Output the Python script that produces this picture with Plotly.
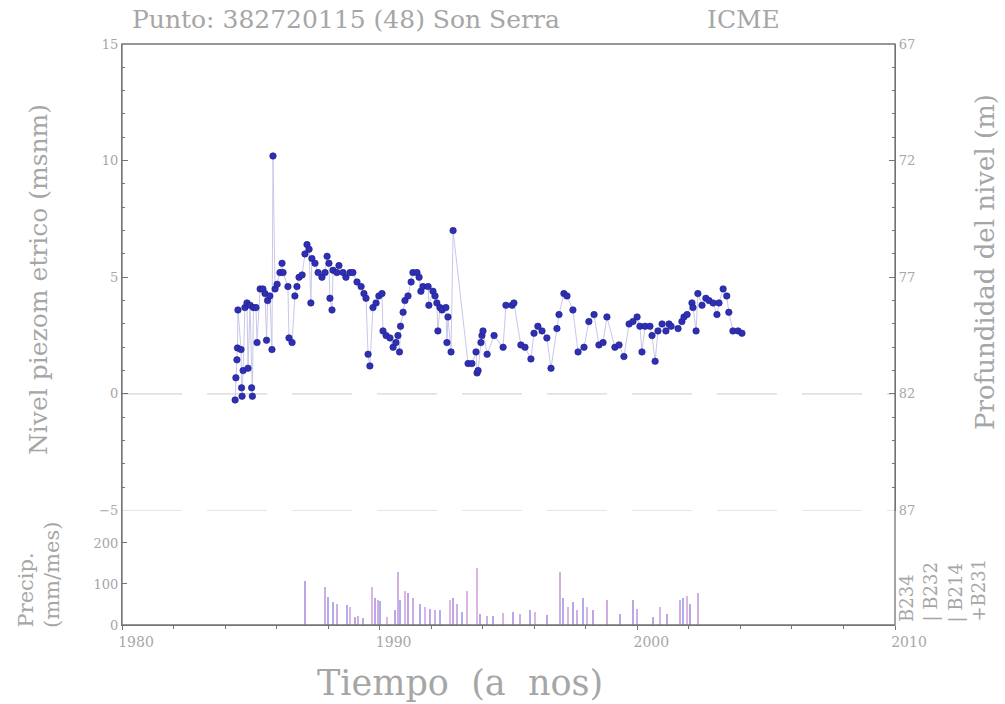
import plotly.graph_objects as go

# Piezometric level (m a.s.l.) at point 382720115, Son Serra
level_year = [
    1984.39, 1984.42, 1984.46, 1984.48, 1984.50, 1984.62, 1984.64, 1984.66, 1984.70, 1984.77,
    1984.85, 1984.89, 1984.97, 1985.03, 1985.06, 1985.10, 1985.20, 1985.24, 1985.36, 1985.47,
    1985.55, 1985.61, 1985.65, 1985.74, 1985.82, 1985.86, 1985.94, 1986.02, 1986.13, 1986.21,
    1986.25, 1986.44, 1986.48, 1986.60, 1986.71, 1986.79, 1986.87, 1986.99, 1987.10, 1987.18,
    1987.26, 1987.33, 1987.37, 1987.49, 1987.61, 1987.76, 1987.88, 1987.96, 1988.03, 1988.07,
    1988.15, 1988.19, 1988.34, 1988.42, 1988.58, 1988.69, 1988.85, 1988.96, 1989.12, 1989.28,
    1989.39, 1989.47, 1989.55, 1989.62, 1989.74, 1989.86, 1989.97, 1990.09, 1990.13, 1990.25,
    1990.40, 1990.52, 1990.63, 1990.71, 1990.77, 1990.81, 1990.91, 1990.98, 1991.10, 1991.22,
    1991.29, 1991.45, 1991.53, 1991.60, 1991.68, 1991.88, 1991.91, 1992.07, 1992.15, 1992.22,
    1992.26, 1992.34, 1992.42, 1992.57, 1992.61, 1992.65, 1992.77, 1992.85, 1993.43, 1993.58,
    1993.74, 1993.78, 1993.82, 1993.93, 1993.97, 1994.01, 1994.17, 1994.44, 1994.79, 1994.90,
    1995.14, 1995.21, 1995.48, 1995.64, 1995.87, 1995.99, 1996.14, 1996.30, 1996.49, 1996.65,
    1996.88, 1996.96, 1997.15, 1997.27, 1997.50, 1997.70, 1997.93, 1998.12, 1998.32, 1998.51,
    1998.67, 1998.82, 1999.13, 1999.29, 1999.48, 1999.68, 1999.83, 1999.99, 2000.10, 2000.18,
    2000.30, 2000.49, 2000.57, 2000.69, 2000.80, 2000.96, 2001.11, 2001.23, 2001.31, 2001.58,
    2001.73, 2001.81, 2001.93, 2002.12, 2002.16, 2002.28, 2002.35, 2002.51, 2002.66, 2002.78,
    2002.94, 2003.09, 2003.17, 2003.33, 2003.47, 2003.55, 2003.71, 2003.91, 2004.06,
]
level_msnm = [
    -0.26, 0.69, 1.46, 1.97, 3.6, 1.9, 0.26, -0.1, 1.0, 3.7,
    3.9, 1.1, 3.8, 0.26, -0.1, 3.7, 3.7, 2.2, 4.5, 4.5,
    4.3, 2.3, 4.0, 4.2, 1.9, 10.2, 4.5, 4.7, 5.2, 5.6,
    5.2, 4.6, 2.4, 2.2, 4.2, 4.6, 5.0, 5.1, 6.0, 6.4,
    6.2, 3.9, 5.8, 5.6, 5.2, 5.0, 5.2, 5.9, 5.6, 4.1,
    3.6, 5.3, 5.2, 5.5, 5.2, 5.0, 5.2, 5.2, 4.8, 4.6,
    4.3, 4.1, 1.7, 1.2, 3.7, 3.9, 4.2, 4.3, 2.7, 2.5,
    2.4, 2.0, 2.2, 2.5, 1.8, 2.9, 3.5, 4.0, 4.2, 4.8,
    5.2, 5.2, 5.0, 4.4, 4.6, 4.6, 3.8, 4.4, 4.2, 3.9,
    2.7, 3.7, 3.6, 3.7, 2.2, 3.3, 1.8, 7.0, 1.3, 1.3,
    1.8, 0.9, 1.0, 2.2, 2.5, 2.7, 1.7, 2.5, 2.0, 3.8,
    3.8, 3.9, 2.1, 2.0, 1.5, 2.6, 2.9, 2.7, 2.4, 1.1,
    2.8, 3.4, 4.3, 4.2, 3.6, 1.8, 2.0, 3.1, 3.4, 2.1,
    2.2, 3.3, 2.0, 2.1, 1.6, 3.0, 3.1, 3.3, 2.9, 1.8,
    2.9, 2.9, 2.5, 1.4, 2.7, 3.0, 2.7, 3.0, 2.9, 2.8,
    3.1, 3.3, 3.4, 3.9, 3.7, 2.7, 4.3, 3.8, 4.1, 4.0,
    3.9, 3.4, 3.9, 4.5, 4.2, 3.5, 2.7, 2.7, 2.6,
]
# Ground elevation reference: depth of water table = 82 - level
ref_depth = 82

# Monthly precipitation (mm/mes) per station
b234_year = [1987.10, 1988.19, 1989.04, 1989.82, 1990.60, 1991.10, 1991.95, 1992.85, 1993.89, 1995.17, 1996.49, 1997.50, 1998.28, 1999.83, 2001.15, 2002.04]
b234_mm = [108, 56, 20, 68, 37, 80, 41, 66, 29, 34, 25, 56, 37, 61, 29, 53]
b232_year = [1987.88, 1988.34, 1989.16, 1989.93, 1990.71, 1991.29, 1992.15, 1993.00, 1994.17, 1995.45, 1997.00, 1997.66, 1998.82, 1999.99, 2001.66, 2002.35]
b232_mm = [93, 53, 24, 61, 130, 68, 37, 53, 24, 28, 130, 37, 61, 41, 61, 80]
b214_year = [1987.99, 1988.73, 1989.35, 1990.01, 1990.79, 1991.57, 1992.34, 1993.20, 1994.40, 1995.83, 1997.11, 1997.89, 1999.33, 2000.61, 2001.77]
b214_mm = [70, 49, 17, 60, 61, 53, 37, 32, 24, 37, 68, 68, 29, 20, 68]
b231_year = [1988.85, 1989.70, 1990.28, 1990.98, 1991.76, 1992.73, 1993.39, 1993.78, 1994.79, 1996.03, 1997.31, 1998.05, 2000.88, 2001.93]
b231_mm = [44, 93, 20, 85, 44, 61, 85, 141, 30, 33, 44, 44, 44, 73]

left_ticks = [-5, 0, 5, 10, 15]
right_ticks = [67, 72, 77, 82, 87]
precip_ticks = [0, 100, 200]
year_ticks = [1980, 1990, 2000, 2010]

TXT = "#a6a6a6"
AX = "#747474"
SERIF = "DejaVu Serif"

fig = go.Figure()

stations = [
    ("B234", b234_year, b234_mm, "#bda6e6"),
    ("B232", b232_year, b232_mm, "#cfaee0"),
    ("B214", b214_year, b214_mm, "#adadf0"),
    ("B231", b231_year, b231_mm, "#dcb6e2"),
]
for name, yrs, mm, col in stations:
    fig.add_trace(go.Bar(x=yrs, y=mm, width=0.045, name=name, marker=dict(color=col, line=dict(width=0)),
                         xaxis="x", yaxis="y2", showlegend=False))

fig.add_trace(go.Scatter(
    x=level_year, y=level_msnm, mode="lines+markers", xaxis="x", yaxis="y",
    line=dict(color="#c8c8ea", width=1),
    marker=dict(color="#2f2fb5", size=6.5, line=dict(color="#20208a", width=0.6)),
    showlegend=False,
))
# depth axis companion (same points expressed as depth below ground)
fig.add_trace(go.Scatter(
    x=level_year, y=[ref_depth - v for v in level_msnm], mode="markers", xaxis="x", yaxis="y3",
    marker=dict(opacity=0), hoverinfo="skip", showlegend=False,
))

tickfont = dict(family=SERIF, size=13, color=TXT)
fig.update_layout(
    width=1005, height=704,
    margin=dict(l=122, r=110, t=44, b=79),
    paper_bgcolor="white", plot_bgcolor="white",
    bargap=0,
    xaxis=dict(range=[1980, 2010], anchor="y2", tickvals=year_ticks, ticks="outside", ticklen=4,
               tickcolor=AX, showline=True, linecolor=AX, linewidth=1.3, showgrid=False, zeroline=False,
               tickfont=dict(family=SERIF, size=14, color=TXT), ticklabelshift=14,
               minor=dict(dtick=2, ticks="outside", ticklen=3, tickcolor=AX)),
    yaxis=dict(domain=[0.197, 1], range=[-5, 15], tickvals=left_ticks, ticks="inside", ticklen=6,
               tickcolor=AX, showline=True, linecolor=AX, linewidth=1.3, showgrid=False, zeroline=False,
               tickfont=tickfont, minor=dict(dtick=1, ticks="inside", ticklen=3, tickcolor=AX)),
    yaxis2=dict(domain=[0, 0.197], range=[0, 279], tickvals=precip_ticks, ticks="inside", ticklen=5,
                tickcolor=AX, showline=True, linecolor=AX, linewidth=1.3, showgrid=False, zeroline=False,
                tickfont=tickfont),
    yaxis3=dict(overlaying="y", side="right", range=[87, 67], tickvals=right_ticks, ticks="inside", ticklen=6,
                tickcolor=AX, showline=True, linecolor=AX, linewidth=1.3, showgrid=False, zeroline=False,
                tickfont=tickfont, minor=dict(dtick=1, ticks="inside", ticklen=3, tickcolor=AX)),
    shapes=[
        dict(type="rect", xref="paper", yref="paper", x0=0, x1=1, y0=0, y1=1,
             line=dict(color=AX, width=1.3), layer="above"),
        dict(type="line", xref="x", yref="y", x0=1980, x1=2010, y0=0, y1=0,
             line=dict(color="#cccccc", width=1, dash="60px,25px"), layer="below"),
        dict(type="line", xref="x", yref="y", x0=1980, x1=2010, y0=-5, y1=-5,
             line=dict(color="#cccccc", width=1, dash="60px,25px"), layer="below"),
    ],
)

def px_x(p):
    return (p - 122) / 773.0

def px_y(p):
    return (625 - p) / 581.0

ann = [
    dict(text="Punto: 382720115 (48) Son Serra", x=px_x(130), y=px_y(19), xanchor="left", yanchor="middle",
         font=dict(family=SERIF, size=25, color=TXT)),
    dict(text="ICME", x=px_x(705), y=px_y(19), xanchor="left", yanchor="middle",
         font=dict(family=SERIF, size=25, color=TXT)),
    dict(text="Nivel piezom etrico (msnm)", x=px_x(38), y=px_y(280), textangle=-90,
         xanchor="center", yanchor="middle", font=dict(family=SERIF, size=25, color=TXT)),
    dict(text="Profundidad del nivel (m)", x=px_x(985), y=px_y(262), textangle=-90,
         xanchor="center", yanchor="middle", font=dict(family=SERIF, size=26, color=TXT)),
    dict(text="Precip.", x=px_x(25), y=px_y(630), textangle=-90,
         xanchor="center", yanchor="bottom", font=dict(family=SERIF, size=21, color=TXT)),
    dict(text="(mm/mes)", x=px_x(52), y=px_y(630), textangle=-90,
         xanchor="center", yanchor="bottom", font=dict(family=SERIF, size=21, color=TXT)),
    dict(text="Tiempo\u00a0\u00a0(a\u00a0\u00a0nos)", x=px_x(460), y=px_y(683),
         xanchor="center", yanchor="middle", font=dict(family=SERIF, size=35, color=TXT)),
]
legend_text = ["B234", "| B232", "| B214", "+B231"]
legend_x = [906, 930, 955, 978]
for t, lx in zip(legend_text, legend_x):
    ann.append(dict(text=t, x=px_x(lx), y=px_y(624), textangle=-90, xanchor="center", yanchor="bottom",
                    font=dict(family=SERIF, size=18, color=TXT)))
for a in ann:
    a.update(xref="paper", yref="paper", showarrow=False)
fig.update_layout(annotations=ann)

fig.write_html("out.html")
